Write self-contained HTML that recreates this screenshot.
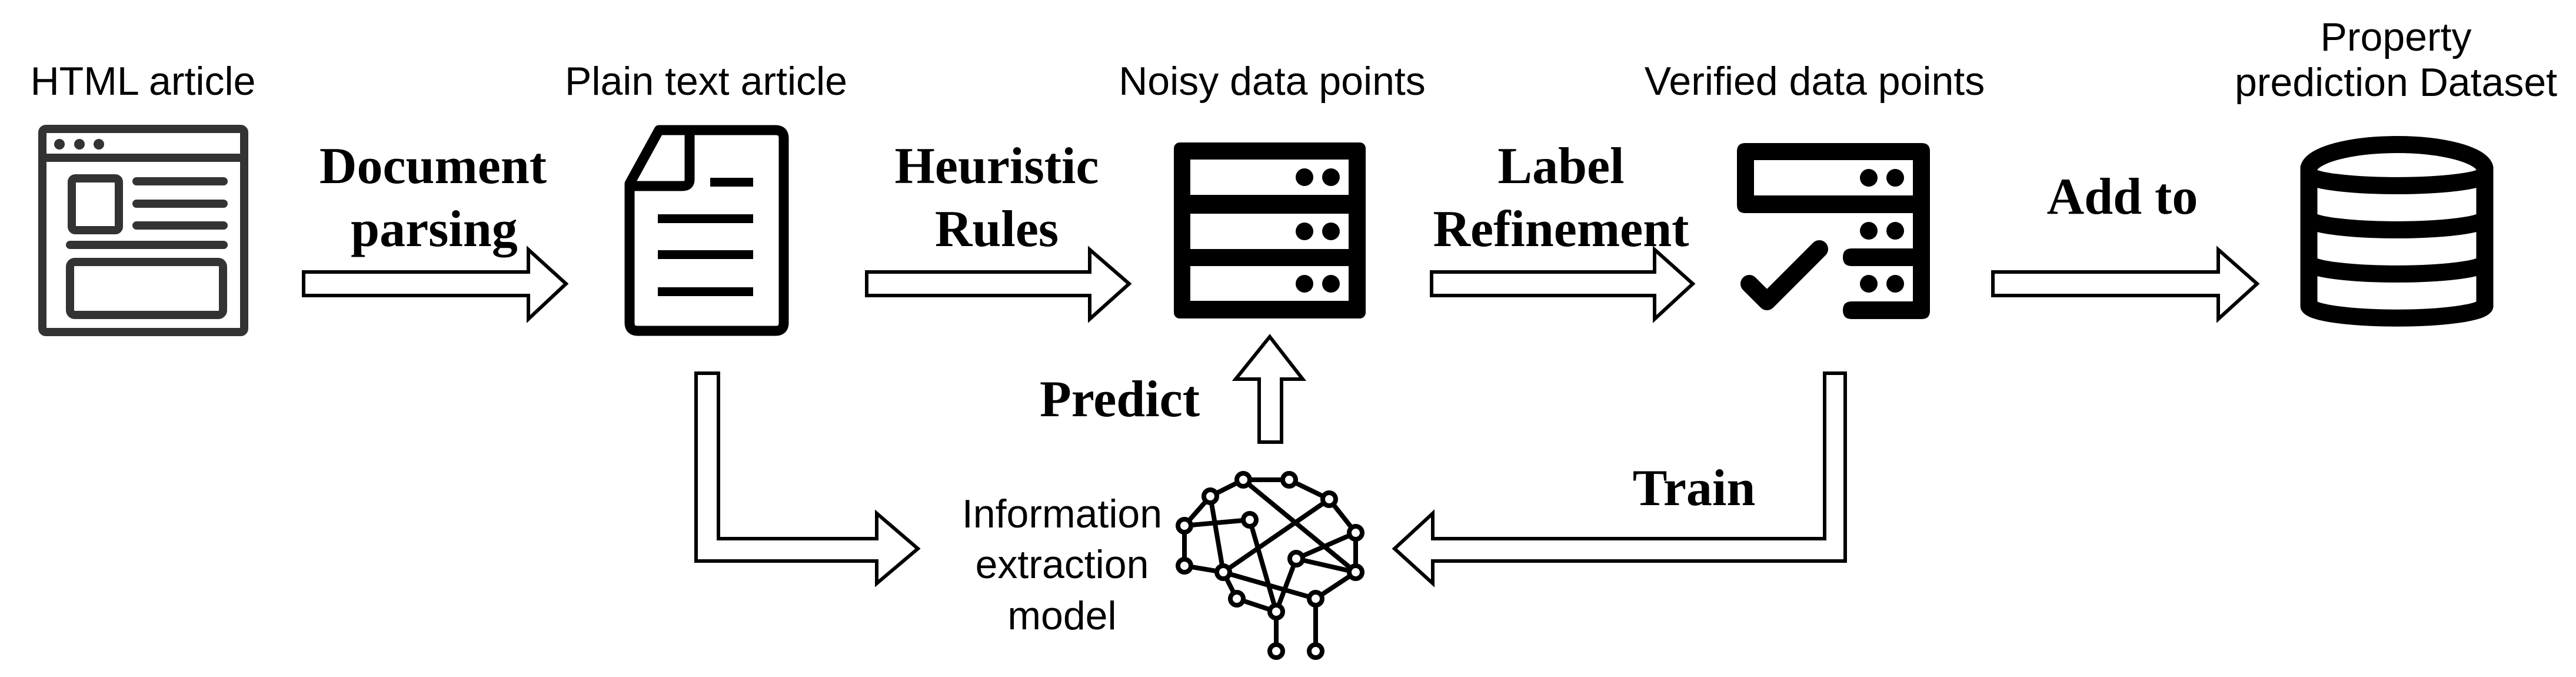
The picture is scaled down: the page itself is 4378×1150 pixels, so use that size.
<!DOCTYPE html>
<html><head><meta charset="utf-8"><style>
html,body{margin:0;padding:0;background:#fff;}
svg{display:block;}
.s{font-family:"Liberation Sans",sans-serif;font-size:68px;fill:#000;}
.b{font-family:"Liberation Serif",serif;font-weight:bold;font-size:88px;fill:#000;}
</style></head><body>
<svg width="4378" height="1150" viewBox="0 0 4378 1150" xmlns="http://www.w3.org/2000/svg">
<rect width="4378" height="1150" fill="#fff"/>
<g class="s" text-anchor="middle">
<text x="243" y="161">HTML article</text>
<text x="1200" y="161">Plain text article</text>
<text x="2162" y="161">Noisy data points</text>
<text x="3084" y="161">Verified data points</text>
<text x="4072" y="86">Property</text>
<text x="4072" y="163">prediction Dataset</text>
<text x="1805" y="896">Information</text>
<text x="1805" y="982">extraction</text>
<text x="1805" y="1069">model</text>
</g>
<g class="b" text-anchor="middle">
<text x="736" y="311">Document</text>
<text x="738" y="418">parsing</text>
<text x="1694" y="311">Heuristic</text>
<text x="1694" y="418">Rules</text>
<text x="2653" y="311">Label</text>
<text x="2653" y="418">Refinement</text>
<text x="3607" y="363">Add to</text>
<text x="1903" y="707">Predict</text>
<text x="2879" y="858">Train</text>
</g>
<g fill="none" stroke="#333" stroke-width="14" stroke-linecap="round" stroke-linejoin="round">
<rect x="72" y="219" width="343" height="345" rx="6"/>
<line x1="72" y1="268" x2="415" y2="268"/>
<rect x="122" y="303" width="80" height="88" rx="6"/>
<line x1="232" y1="308" x2="380" y2="308"/>
<line x1="232" y1="346" x2="380" y2="346"/>
<line x1="232" y1="383" x2="380" y2="383"/>
<line x1="119" y1="416" x2="380" y2="416"/>
<rect x="119" y="445" width="260" height="90" rx="8"/>
</g>
<g fill="#333"><circle cx="101" cy="245" r="9"/><circle cx="135" cy="245" r="9"/><circle cx="168" cy="245" r="9"/></g>
<g fill="none" stroke="#000" stroke-width="17" stroke-linejoin="round">
<path d="M1172,221 L1318,221 Q1332,221 1332,235 L1332,548 Q1332,562 1318,562 L1084,562 Q1070,562 1070,548 L1070,312 L1120,221 Z"/>
<path d="M1172,221 L1172,305 Q1172,316 1160,316 L1070,316"/>
</g>
<g fill="#000"><rect x="1207" y="302" width="73" height="15"/><rect x="1118" y="364" width="162" height="15"/><rect x="1118" y="425" width="162" height="15"/><rect x="1118" y="488" width="162" height="15"/></g>
<rect x="1995" y="242" width="326" height="299" rx="10" fill="#000"/>
<g fill="#fff"><rect x="2023" y="271" width="269" height="60"/><rect x="2023" y="363" width="269" height="60"/><rect x="2023" y="452" width="269" height="59"/></g>
<g fill="#000"><circle cx="2217" cy="301" r="15"/><circle cx="2262" cy="301" r="15"/><circle cx="2217" cy="393" r="15"/><circle cx="2262" cy="393" r="15"/><circle cx="2217" cy="482" r="15"/><circle cx="2262" cy="482" r="15"/></g>
<path d="M2966,243 L3266,243 Q3280,243 3280,257 L3280,528 Q3280,542 3266,542 L3147,542 Q3132,542 3132,527 Q3132,512 3147,512 L3251,512 L3251,452 L3147,452 Q3132,452 3132,437 Q3132,422 3147,422 L3251,422 L3251,362 L2966,362 Q2952,362 2952,348 L2952,257 Q2952,243 2966,243 Z M2981,272 L2981,332 L3251,332 L3251,272 Z" fill="#000" fill-rule="evenodd"/>
<g fill="#000"><circle cx="3176" cy="302" r="15"/><circle cx="3221" cy="302" r="15"/><circle cx="3176" cy="392" r="15"/><circle cx="3221" cy="392" r="15"/><circle cx="3176" cy="482" r="15"/><circle cx="3221" cy="482" r="15"/></g>
<polyline points="2973,482 3003,512 3092,423" fill="none" stroke="#000" stroke-width="30" stroke-linecap="round" stroke-linejoin="round"/>
<g fill="none" stroke="#000" stroke-width="29" stroke-linejoin="round">
<path d="M3924,520 L3924,285 A150,43 0 0 1 4223,285 L4223,520 A150,22 0 0 1 3924,520 Z"/>
<path d="M3924,297 A150,20 0 0 0 4223,297"/>
<path d="M3924,372 A150,20 0 0 0 4223,372"/>
<path d="M3924,447 A150,20 0 0 0 4223,447"/>
</g>
<g fill="#fff" stroke="#000" stroke-width="6" stroke-linejoin="miter">
<polygon points="516,462 898,462 898,424 962,482 898,542 898,502 516,502"/>
<polygon points="1473,462 1852,462 1852,424 1919,482 1852,542 1852,502 1473,502"/>
<polygon points="2433,462 2812,462 2812,424 2877,482 2812,542 2812,502 2433,502"/>
<polygon points="3387,462 3770,462 3770,424 3836,482 3770,542 3770,502 3387,502"/>
<polygon points="1183,634 1221,634 1221,915 1490,915 1490,872 1560,932 1490,991 1490,953 1183,953"/>
<polygon points="3136,634 3101,634 3101,915 2435,915 2435,872 2370,932 2435,991 2435,953 3136,953"/>
<polygon points="2158,572 2214,644 2178,644 2178,751 2140,751 2140,644 2100,644"/>
</g>
<g stroke="#000" stroke-width="8" fill="none" stroke-linecap="round">
<line x1="2113" y1="815" x2="2191" y2="815"/>
<line x1="2113" y1="815" x2="2057" y2="843"/>
<line x1="2191" y1="815" x2="2259" y2="848"/>
<line x1="2057" y1="843" x2="2013" y2="893"/>
<line x1="2013" y1="893" x2="2124" y2="883"/>
<line x1="2013" y1="893" x2="2013" y2="961"/>
<line x1="2057" y1="843" x2="2079" y2="972"/>
<line x1="2013" y1="961" x2="2079" y2="972"/>
<line x1="2079" y1="972" x2="2102" y2="1017"/>
<line x1="2102" y1="1017" x2="2169" y2="1039"/>
<line x1="2124" y1="883" x2="2169" y2="1039"/>
<line x1="2169" y1="1039" x2="2203" y2="949"/>
<line x1="2203" y1="949" x2="2304" y2="905"/>
<line x1="2203" y1="949" x2="2304" y2="972"/>
<line x1="2113" y1="815" x2="2304" y2="972"/>
<line x1="2259" y1="848" x2="2079" y2="972"/>
<line x1="2259" y1="848" x2="2304" y2="905"/>
<line x1="2304" y1="905" x2="2304" y2="972"/>
<line x1="2079" y1="972" x2="2236" y2="1017"/>
<line x1="2304" y1="972" x2="2236" y2="1017"/>
<line x1="2169" y1="1039" x2="2169" y2="1106"/>
<line x1="2236" y1="1017" x2="2236" y2="1106"/>
</g>
<g stroke="#000" stroke-width="8" fill="#fff">
<circle cx="2113" cy="815" r="11"/><circle cx="2191" cy="815" r="11"/><circle cx="2057" cy="843" r="11"/><circle cx="2259" cy="848" r="11"/>
<circle cx="2013" cy="893" r="11"/><circle cx="2124" cy="883" r="11"/><circle cx="2304" cy="905" r="11"/><circle cx="2013" cy="961" r="11"/>
<circle cx="2079" cy="972" r="11"/><circle cx="2203" cy="949" r="11"/><circle cx="2304" cy="972" r="11"/><circle cx="2102" cy="1017" r="11"/>
<circle cx="2169" cy="1039" r="11"/><circle cx="2236" cy="1017" r="11"/><circle cx="2169" cy="1106" r="11"/><circle cx="2236" cy="1106" r="11"/>
</g>
</svg>
</body></html>
